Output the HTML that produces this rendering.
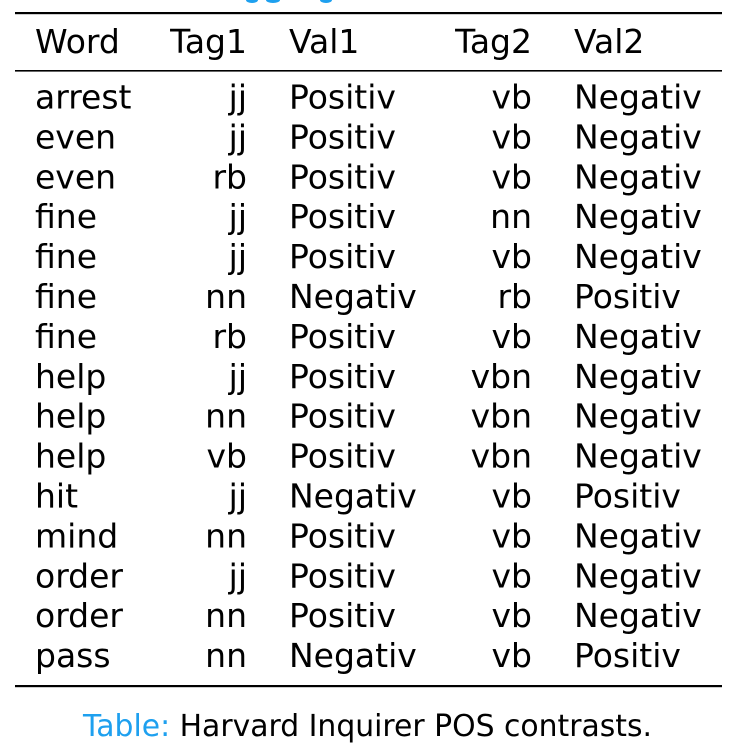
<!DOCTYPE html>
<html><head><meta charset="utf-8"><style>
html,body{margin:0;padding:0;background:#fff;width:746px;height:752px;overflow:hidden}
svg{display:block}
text{font-family:"DejaVu Sans","Liberation Sans",sans-serif;font-size:33px;fill:#000}
.r{text-anchor:end}
</style></head><body>
<svg width="746" height="752" viewBox="0 0 746 752">
<ellipse cx="252" cy="0" rx="6" ry="3" fill="#1ea0ef"/>
<ellipse cx="273" cy="0" rx="7" ry="3" fill="#1ea0ef"/>
<ellipse cx="326" cy="0" rx="6" ry="3" fill="#1ea0ef"/>
<rect x="15" y="12" width="707" height="2.2" fill="#000"/>
<rect x="15" y="70" width="707" height="1.6" fill="#000"/>
<rect x="15" y="685" width="707" height="2.2" fill="#000"/>
<g>
<text x="35" y="53">Word</text><text x="247" y="53" class="r">Tag1</text><text x="289" y="53">Val1</text><text x="532" y="53" class="r">Tag2</text><text x="574" y="53">Val2</text>
</g>
<g id="rows"></g>
<text x="83" y="736" style="font-size:30px" textLength="569" lengthAdjust="spacingAndGlyphs"><tspan style="fill:#1ea0ef">Table:</tspan> Harvard Inquirer POS contrasts.</text>
</svg>
<script>
var d=[["arrest","jj","Positiv","vb","Negativ"],["even","jj","Positiv","vb","Negativ"],["even","rb","Positiv","vb","Negativ"],["fine","jj","Positiv","nn","Negativ"],["fine","jj","Positiv","vb","Negativ"],["fine","nn","Negativ","rb","Positiv"],["fine","rb","Positiv","vb","Negativ"],["help","jj","Positiv","vbn","Negativ"],["help","nn","Positiv","vbn","Negativ"],["help","vb","Positiv","vbn","Negativ"],["hit","jj","Negativ","vb","Positiv"],["mind","nn","Positiv","vb","Negativ"],["order","jj","Positiv","vb","Negativ"],["order","nn","Positiv","vb","Negativ"],["pass","nn","Negativ","vb","Positiv"]];
var g=document.getElementById("rows"),ns="http://www.w3.org/2000/svg";
var xs=[35,247,289,532,574];
d.forEach(function(r,i){var y=108.5+i*39.9;r.forEach(function(t,j){var e=document.createElementNS(ns,"text");e.setAttribute("x",xs[j]);e.setAttribute("y",y);if(j==1||j==3)e.setAttribute("class","r");e.textContent=t;g.appendChild(e);});});
</script>
</body></html>
